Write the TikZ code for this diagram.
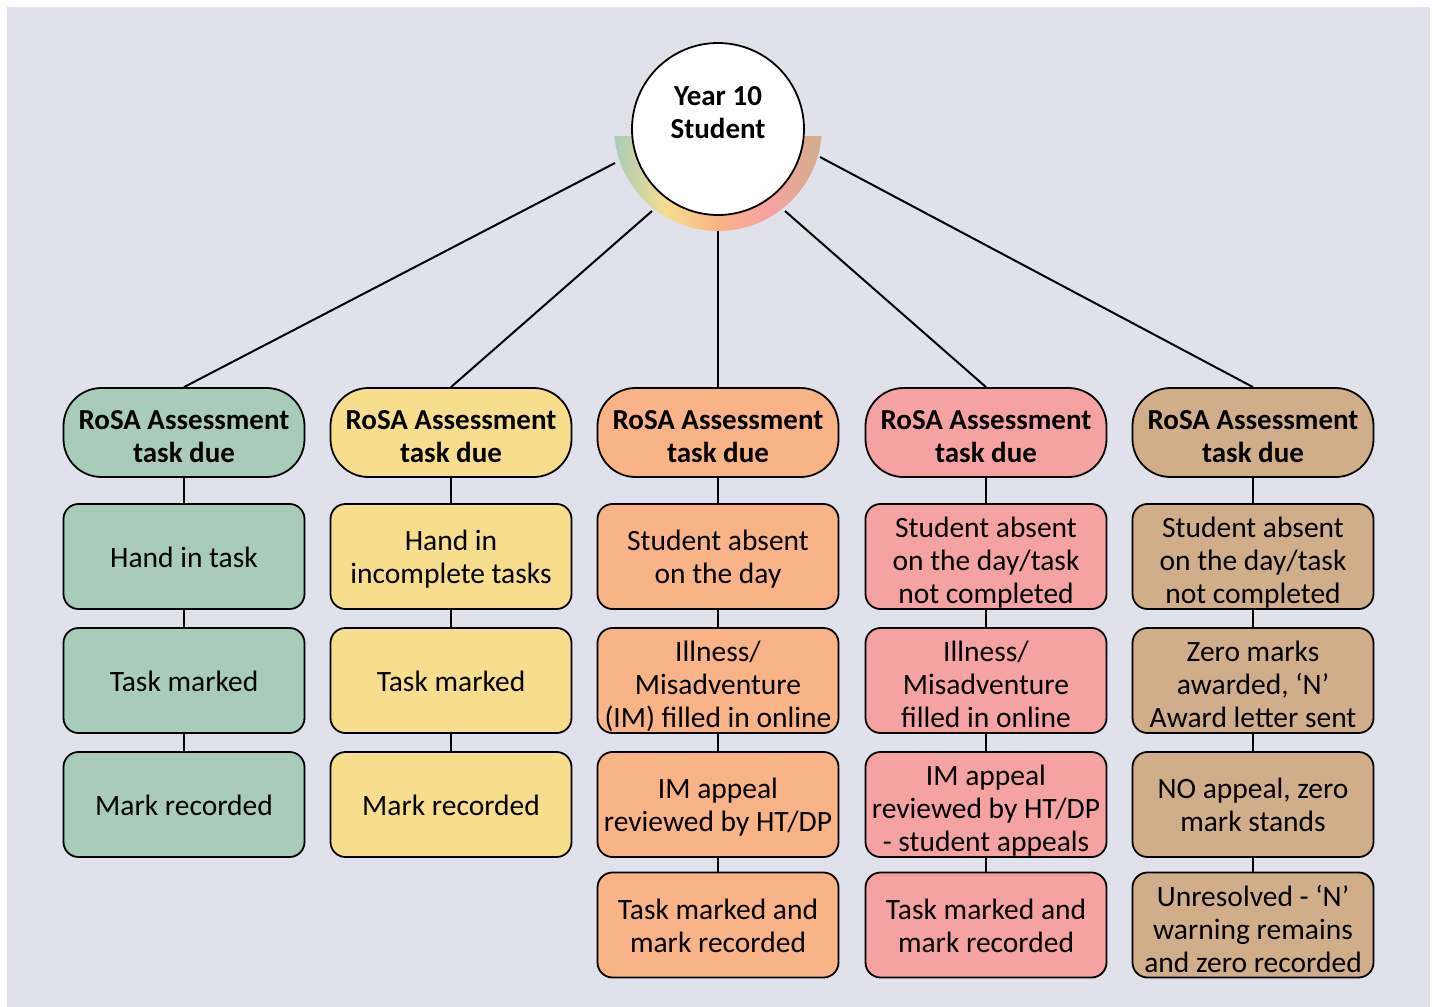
\documentclass[tikz,border=0pt]{standalone}
\usepackage{fontspec}
\setmainfont{Carlito}
\begin{document}
\definecolor{bgc}{HTML}{E0E1EA}
\definecolor{cg}{HTML}{A8CBBA}
\definecolor{cy}{HTML}{F7DE8D}
\definecolor{co}{HTML}{F8B387}
\definecolor{cp}{HTML}{F5A2A3}
\definecolor{ct}{HTML}{D1AE8A}
\pgfdeclarehorizontalshading{ringshade}{100bp}{color(0bp)=(cg); color(25bp)=(cg); color(37.5bp)=(cy); color(50bp)=(co); color(62.5bp)=(cp); color(75bp)=(ct); color(100bp)=(ct)}
\begin{tikzpicture}[x=1pt,y=-1pt,
  hdr/.style={draw=black, line width=1.8pt, rounded corners=38pt, minimum width=241pt, minimum height=89pt, align=center, inner sep=0pt, font=\fontsize{29}{33}\selectfont\bfseries, text height=60pt, text depth=0pt},
  stepbox/.style={draw=black, line width=1.8pt, rounded corners=15pt, minimum width=241pt, minimum height=105pt, align=center, inner sep=0pt, font=\fontsize{29.5}{33}\selectfont, text height=21pt, text depth=0pt},
  ltwo/.style={text height=54pt, text depth=0pt},
  lthree/.style={text height=94pt, text depth=0pt},
  conn/.style={line width=2pt, draw=black}]
\useasboundingbox (0,0) rectangle (1436,1007);
\fill[white] (0,0) rectangle (1436,1007);
\fill[bgc] (7,7) rectangle (1430,1007);

% column x positions
\def\ca{184}\def\cb{451}\def\cc{718}\def\cd{986}\def\ce{1253}

% headers
\node[hdr, fill=cg] (h1) at (\ca,432.5) {RoSA Assessment\\task due};
\node[hdr, fill=cy] (h2) at (\cb,432.5) {RoSA Assessment\\task due};
\node[hdr, fill=co] (h3) at (\cc,432.5) {RoSA Assessment\\task due};
\node[hdr, fill=cp] (h4) at (\cd,432.5) {RoSA Assessment\\task due};
\node[hdr, fill=ct] (h5) at (\ce,432.5) {RoSA Assessment\\task due};

% column 1
\node[stepbox, fill=cg] (a1) at (\ca,556.5) {Hand in task};
\node[stepbox, fill=cg] (a2) at (\ca,680.5) {Task marked};
\node[stepbox, fill=cg] (a3) at (\ca,804.5) {Mark recorded};
% column 2
\node[stepbox, ltwo, fill=cy] (b1) at (\cb,556.5) {Hand in\\incomplete tasks};
\node[stepbox, fill=cy] (b2) at (\cb,680.5) {Task marked};
\node[stepbox, fill=cy] (b3) at (\cb,804.5) {Mark recorded};
% column 3
\node[stepbox, ltwo, fill=co] (c1) at (\cc,556.5) {Student absent\\on the day};
\node[stepbox, lthree, fill=co] (c2) at (\cc,680.5) {Illness/\\Misadventure\\(IM) filled in online};
\node[stepbox, ltwo, fill=co] (c3) at (\cc,804.5) {IM appeal\\reviewed by HT/DP};
\node[stepbox, ltwo, fill=co] (c4) at (\cc,925) {Task marked and\\mark recorded};
% column 4
\node[stepbox, lthree, fill=cp] (d1) at (\cd,556.5) {Student absent\\on the day/task\\not completed};
\node[stepbox, lthree, fill=cp] (d2) at (\cd,680.5) {Illness/\\Misadventure\\filled in online};
\node[stepbox, lthree, fill=cp] (d3) at (\cd,804.5) {IM appeal\\reviewed by HT/DP\\- student appeals};
\node[stepbox, ltwo, fill=cp] (d4) at (\cd,925) {Task marked and\\mark recorded};
% column 5
\node[stepbox, lthree, fill=ct] (e1) at (\ce,556.5) {Student absent\\on the day/task\\not completed};
\node[stepbox, lthree, fill=ct] (e2) at (\ce,680.5) {Zero marks\\awarded, ‘N’\\Award letter sent};
\node[stepbox, ltwo, fill=ct] (e3) at (\ce,804.5) {NO appeal, zero\\mark stands};
\node[stepbox, lthree, fill=ct] (e4) at (\ce,925) {Unresolved - ‘N’\\warning remains\\and zero recorded};

% vertical connectors
\foreach \p/\q in {h1/a1,a1/a2,a2/a3,h2/b1,b1/b2,b2/b3,h3/c1,c1/c2,c2/c3,c3/c4,h4/d1,d1/d2,d2/d3,d3/d4,h5/e1,e1/e2,e2/e3,e3/e4}
  \draw[conn] (\p.south) -- (\q.north);

% ring anchor points
\coordinate (r1) at (615,163);
\coordinate (r2) at (652,211);
\coordinate (r3) at (\cc,230);
\coordinate (r4) at (785,211);
\coordinate (r5) at (820,157);
\draw[conn] (h1.north) -- (r1);
\draw[conn] (h2.north) -- (r2);
\draw[conn] (h3.north) -- (r3);
\draw[conn] (h4.north) -- (r4);
\draw[conn] (h5.north) -- (r5);

% gradient ring
\begin{scope}
  \clip (590,136) rectangle (850,250);
  \path[even odd rule, shading=ringshade] (718,127) circle (104) (718,127) circle (80);
\end{scope}

% root circle
\node[circle, draw=black, line width=1.8pt, fill=white, minimum size=172pt, inner sep=0pt] (root) at (718,129) {};
\node[align=center, inner sep=0pt, font=\fontsize{29}{33}\selectfont\bfseries, text height=60pt, text depth=0pt] (roottxt) at (718,108.5) {Year 10\\Student};
\end{tikzpicture}
\end{document}
